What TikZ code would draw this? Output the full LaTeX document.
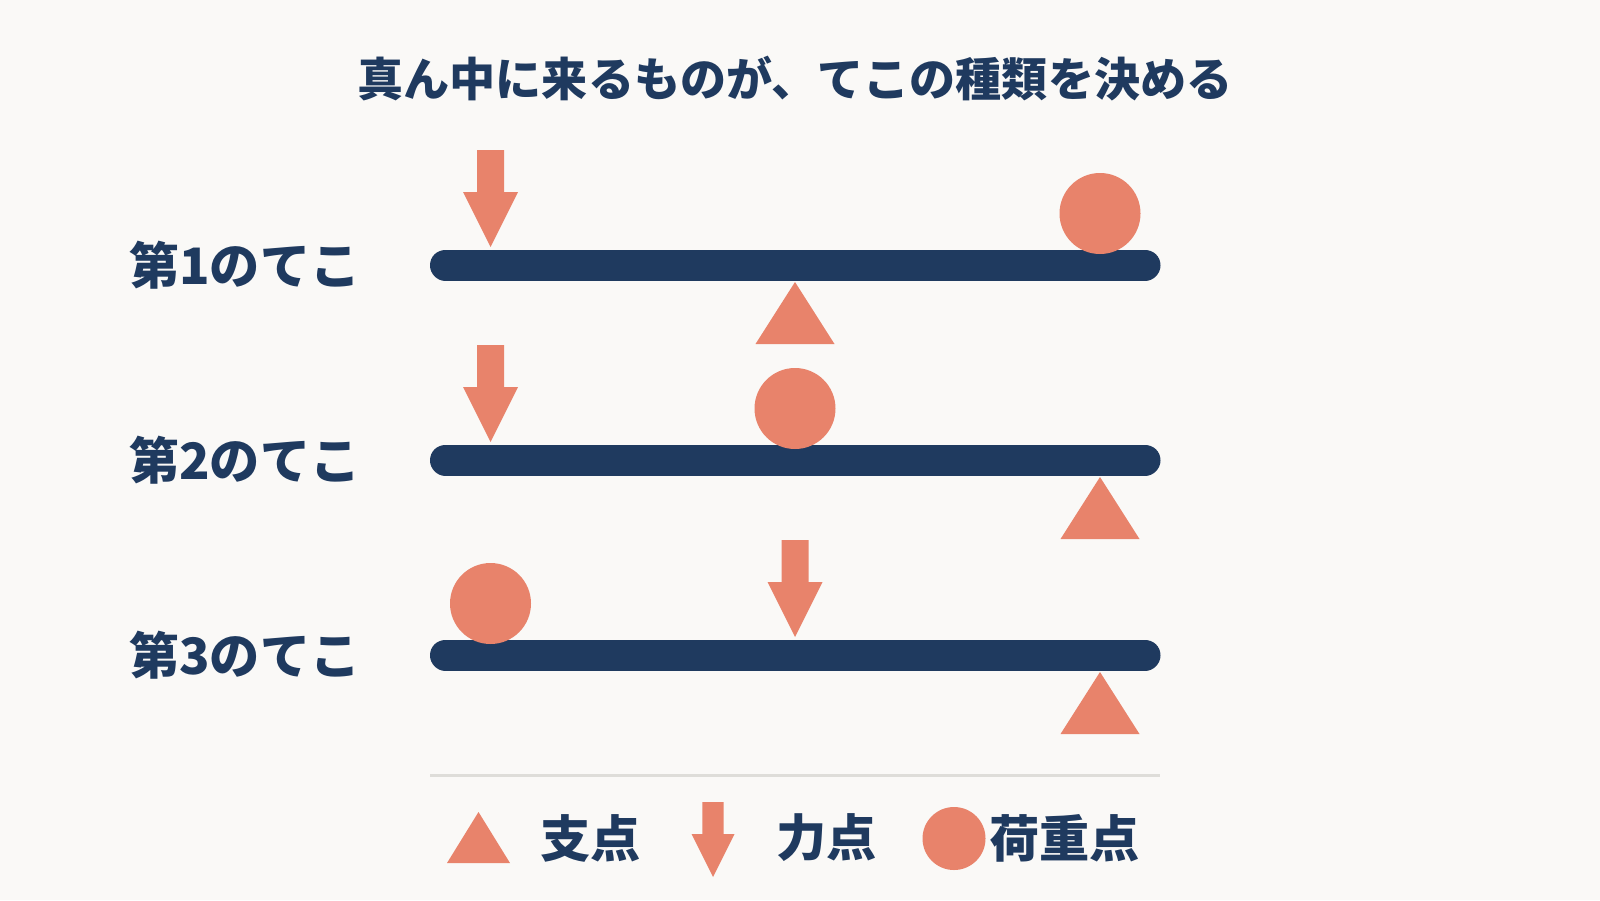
\documentclass[tikz,border=0pt]{standalone}
\usepackage{fontspec}
\newfontfamily\jp{Noto Sans CJK JP}
\definecolor{navy}{HTML}{1F3A5F}
\definecolor{salmon}{HTML}{E8836B}
\definecolor{bgc}{HTML}{FAF9F7}
\definecolor{sep}{HTML}{DEDDD9}
\tikzset{
  lbl/.style={inner sep=0pt, text=navy, font=\jp\bfseries\fontsize{50.2}{50.2}\selectfont},
  ttl/.style={inner sep=0pt, text=navy, font=\jp\bfseries\fontsize{46.1}{46.1}\selectfont},
  lever/.style={draw=navy, line width=31pt, line cap=round},
  fulcrum/.pic={\fill[salmon] (0,0) -- (39.5,62) -- (-39.5,62) -- cycle;},
  effort/.pic={\fill[salmon] (-13.5,0) -- (13.5,0) -- (13.5,42) -- (27.5,42) -- (0,97) -- (-27.5,42) -- (-13.5,42) -- cycle;},
  load/.pic={\fill[salmon] (0,0) circle[radius=40.5];},
}
\begin{document}
\begin{tikzpicture}[x=1pt,y=-1pt]
\fill[bgc] (0,0) rectangle (1600,900);
\useasboundingbox (0,0) rectangle (1600,900);

\node[ttl] (title) at (795,79) {真ん中に来るものが、てこの種類を決める};

% row 1
\node[lbl, anchor=west] (l1) at (129,265) {第1のてこ};
\coordinate (a1) at (445.5,265); \coordinate (b1) at (1145,265);
\draw[lever] (a1) -- (b1);
\pic at (490.5,150) {effort};
\pic at (1100,213.5) {load};
\pic at (795,282) {fulcrum};

% row 2
\node[lbl, anchor=west] (l2) at (129,460) {第2のてこ};
\coordinate (a2) at (445.5,460); \coordinate (b2) at (1145,460);
\draw[lever] (a2) -- (b2);
\pic at (490.5,345) {effort};
\pic at (795,408.5) {load};
\pic at (1100,477) {fulcrum};

% row 3
\node[lbl, anchor=west] (l3) at (129,655) {第3のてこ};
\coordinate (a3) at (445.5,655); \coordinate (b3) at (1145,655);
\draw[lever] (a3) -- (b3);
\pic at (490.5,603.5) {load};
\pic at (795,540) {effort};
\pic at (1100,672) {fulcrum};

% legend
\coordinate (s1) at (430,775.5); \coordinate (s2) at (1160,775.5);
\draw[sep, line width=2.7pt] (s1) -- (s2);
\fill[salmon] (478.5,812) -- (510,863) -- (447,863) -- cycle;
\node[lbl, anchor=west] (k1) at (540,838) {支点};
\fill[salmon] (702.3,802) -- (723.7,802) -- (723.7,834) -- (734.5,834) -- (713,877) -- (691.5,834) -- (702.3,834) -- cycle;
\node[lbl, anchor=west] (k2) at (776,838) {力点};
\fill[salmon] (954,838.5) circle[radius=31.5];
\node[lbl, anchor=west] (k3) at (989,838) {荷重点};
\end{tikzpicture}
\end{document}
